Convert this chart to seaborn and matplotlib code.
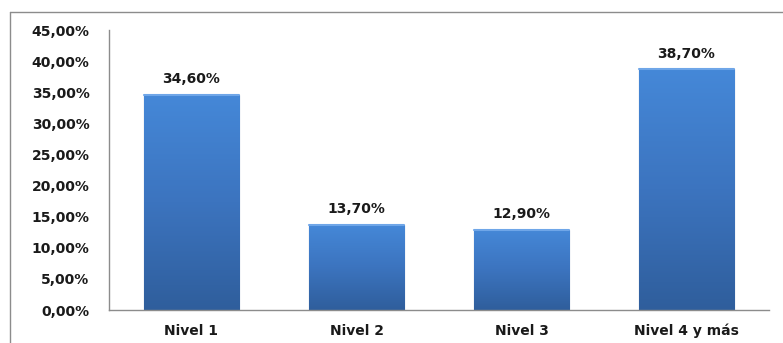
import matplotlib
matplotlib.use("Agg")
import matplotlib.pyplot as plt
import seaborn as sns
import numpy as np
import pandas as pd
from matplotlib.lines import Line2D
from matplotlib.colors import LinearSegmentedColormap

categories = ["Nivel 1", "Nivel 2", "Nivel 3", "Nivel 4 y más"]
values = [34.60, 13.70, 12.90, 38.70]
value_labels = ["34,60%", "13,70%", "12,90%", "38,70%"]
yticks = [0, 5, 10, 15, 20, 25, 30, 35, 40, 45]
ytick_labels = ["0,00%", "5,00%", "10,00%", "15,00%", "20,00%", "25,00%",
                "30,00%", "35,00%", "40,00%", "45,00%"]

sns.set_style("white")
plt.rcParams['font.family'] = ['DejaVu Sans']

df = pd.DataFrame({"cat": categories, "val": values})

fig = plt.figure(figsize=(7.83, 3.43), dpi=100)
ax = fig.add_axes([109/783, 1 - 310/343, (769 - 109)/783, (310 - 30)/343])

sns.barplot(data=df, x="cat", y="val", ax=ax, color="#3b76c4", width=0.576,
            edgecolor="#2b5189", linewidth=0.8, saturation=1)

ax.set_ylim(0, 45)
ax.set_xlim(-0.5, 3.5)

# gradient overlay clipped to each bar
grad = np.linspace(0, 1, 256).reshape(-1, 1)
cmap = LinearSegmentedColormap.from_list("g", ["#2f5e9c", "#3c74bf", "#4588d8"])
for patch in ax.patches:
    x0, y0 = patch.get_x(), patch.get_y()
    w, h = patch.get_width(), patch.get_height()
    im = ax.imshow(grad, extent=[x0, x0 + w, y0, y0 + h], origin="lower",
                   cmap=cmap, aspect="auto", zorder=patch.get_zorder() + 0.1)
    im.set_clip_path(patch)
    ax.add_line(Line2D([x0, x0 + w], [y0 + h, y0 + h], color="#6fa6e8",
                       lw=1.5, zorder=patch.get_zorder() + 0.2))
ax.set_xlim(-0.5, 3.5)
ax.set_ylim(0, 45)

for i, (v, lab) in enumerate(zip(values, value_labels)):
    ax.annotate(lab, (i, v), xytext=(0, 6), textcoords="offset points",
                ha="center", va="bottom", fontsize=10, fontweight="bold",
                color="#1a1a1a")

ax.set_yticks(yticks)
ax.set_yticklabels(ytick_labels, fontsize=10, fontweight="bold", color="#1a1a1a")
ax.set_xticks(range(len(categories)))
ax.set_xticklabels(categories, fontsize=10, fontweight="bold", color="#1a1a1a")
ax.tick_params(axis="y", length=0, pad=14)
ax.tick_params(axis="x", length=0, pad=10)
ax.set_xlabel("")
ax.set_ylabel("")

for s in ["top", "right"]:
    ax.spines[s].set_visible(False)
for s in ["left", "bottom"]:
    ax.spines[s].set_color("#8c8c8c")
    ax.spines[s].set_linewidth(1.0)

# outer frame
fig.add_artist(Line2D([10/783, 10/783], [0, 1 - 12/343], transform=fig.transFigure,
                      color="#8c8c8c", lw=1.0))
fig.add_artist(Line2D([10/783, 1], [1 - 12/343, 1 - 12/343], transform=fig.transFigure,
                      color="#8c8c8c", lw=1.0))

fig.savefig("out.png", dpi=100)
